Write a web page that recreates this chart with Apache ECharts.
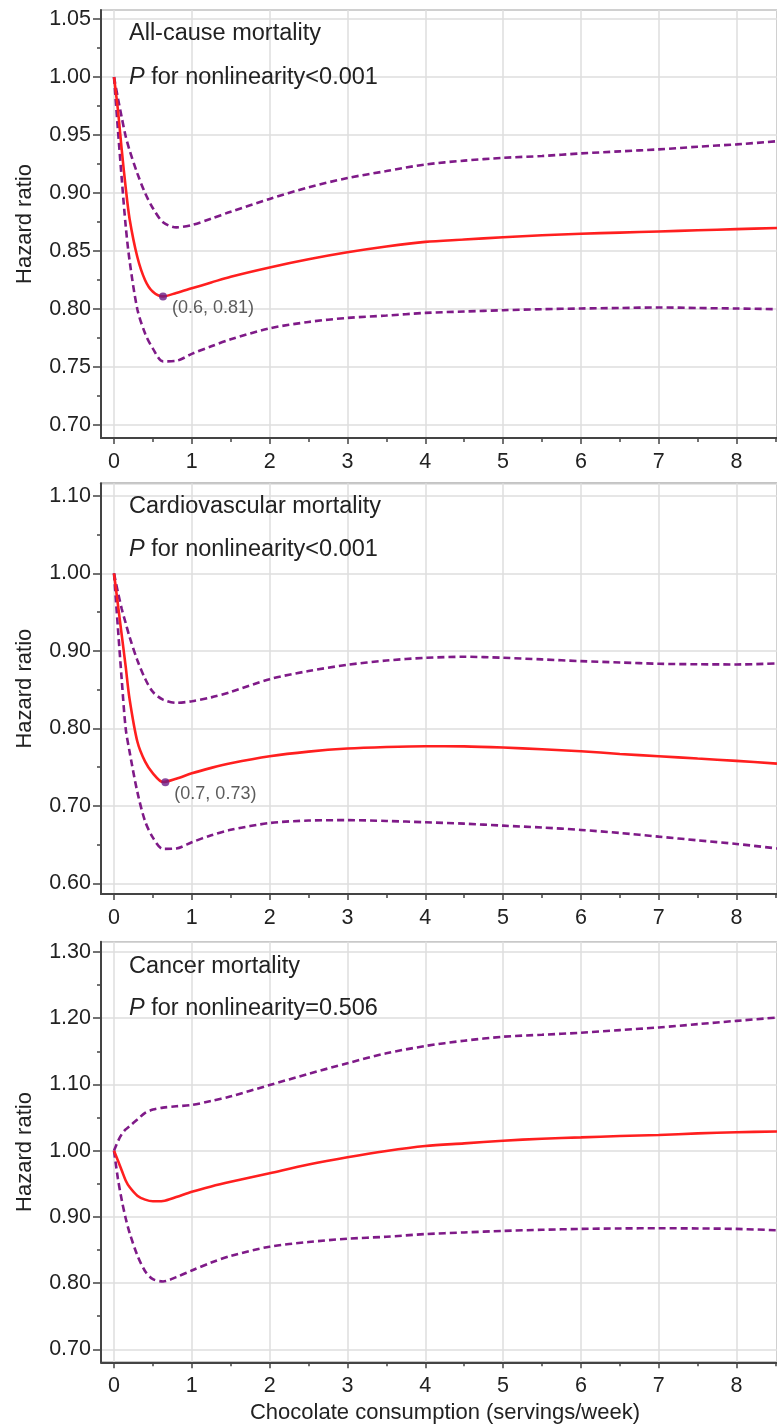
<!DOCTYPE html>
<html><head><meta charset="utf-8">
<script src="https://cdn.jsdelivr.net/npm/echarts@6/dist/echarts.min.js"></script>
<style>html,body{margin:0;padding:0;background:#fff}#c{width:777px;height:1427px}</style>
</head><body><div id="c"></div>
<script>
// shared x positions (servings/week)
const xs = [0, 0.05, 0.1, 0.15, 0.2, 0.3, 0.4, 0.5, 0.63, 0.8, 1.0, 1.25, 1.5, 2, 2.5, 3, 3.5, 4, 4.5, 5, 5.5, 6, 6.5, 7, 7.5, 8, 8.52];

// Panel 1: all-cause mortality
const allEst   = [1.000, 0.972, 0.937, 0.905, 0.878, 0.845, 0.825, 0.815, 0.811, 0.814, 0.818, 0.823, 0.828, 0.836, 0.843, 0.849, 0.854, 0.858, 0.860, 0.862, 0.8637, 0.865, 0.866, 0.867, 0.868, 0.869, 0.870];
const allUpper = [1.000, 0.982, 0.965, 0.949, 0.937, 0.917, 0.900, 0.887, 0.875, 0.8705, 0.8725, 0.878, 0.884, 0.895, 0.905, 0.913, 0.919, 0.9247, 0.928, 0.9304, 0.932, 0.9342, 0.936, 0.9377, 0.940, 0.942, 0.9447];
const allLower = [1.000, 0.955, 0.912, 0.872, 0.842, 0.800, 0.779, 0.766, 0.755, 0.7555, 0.7615, 0.768, 0.774, 0.7835, 0.789, 0.7925, 0.7945, 0.7968, 0.798, 0.7991, 0.800, 0.8006, 0.801, 0.8015, 0.801, 0.8006, 0.800];

// Panel 2: cardiovascular mortality
const cvdEst   = [1.000, 0.960, 0.920, 0.880, 0.838, 0.783, 0.757, 0.742, 0.7307, 0.735, 0.742, 0.749, 0.755, 0.764, 0.770, 0.774, 0.776, 0.777, 0.7768, 0.7753, 0.773, 0.7705, 0.767, 0.764, 0.761, 0.758, 0.7545];
const cvdUpper = [1.000, 0.976, 0.954, 0.936, 0.918, 0.888, 0.864, 0.847, 0.837, 0.833, 0.835, 0.840, 0.847, 0.8635, 0.874, 0.882, 0.8875, 0.891, 0.8924, 0.8911, 0.889, 0.8868, 0.885, 0.8834, 0.8827, 0.8825, 0.8838];
const cvdLower = [1.000, 0.930, 0.862, 0.800, 0.770, 0.718, 0.680, 0.659, 0.6444, 0.645, 0.653, 0.662, 0.669, 0.6778, 0.681, 0.6815, 0.6805, 0.6788, 0.677, 0.6744, 0.672, 0.6689, 0.665, 0.6602, 0.6555, 0.6508, 0.645];

// Panel 3: cancer mortality
const canEst   = [1.000, 0.985, 0.970, 0.955, 0.945, 0.932, 0.926, 0.9235, 0.924, 0.930, 0.938, 0.946, 0.953, 0.966, 0.979, 0.990, 0.9995, 1.007, 1.011, 1.015, 1.018, 1.020, 1.022, 1.0237, 1.026, 1.0278, 1.029];
const canUpper = [1.000, 1.014, 1.025, 1.032, 1.037, 1.047, 1.057, 1.062, 1.065, 1.067, 1.069, 1.075, 1.082, 1.099, 1.116, 1.132, 1.147, 1.158, 1.166, 1.172, 1.175, 1.178, 1.182, 1.186, 1.191, 1.196, 1.201];
const canLower = [1.000, 0.958, 0.925, 0.898, 0.876, 0.842, 0.818, 0.806, 0.8025, 0.809, 0.819, 0.831, 0.841, 0.855, 0.862, 0.867, 0.870, 0.874, 0.8765, 0.8788, 0.8805, 0.8818, 0.8825, 0.8828, 0.8825, 0.8818, 0.8798];

// nadir points
const allNadir = [0.63, 0.811];
const cvdNadir = [0.66, 0.7305];
const allNadirLabel = '(0.6, 0.81)';
const cvdNadirLabel = '(0.7, 0.73)';

// texts
const panelTitles = ['All-cause mortality', 'Cardiovascular mortality', 'Cancer mortality'];
const pValues = ['<0.001', '<0.001', '=0.506'];
const yName = 'Hazard ratio';
const xName = 'Chocolate consumption (servings/week)';

// axis ranges / ticks
const xRange = [-0.167, 8.52];
const xMinorTicks = [0.5, 1.5, 2.5, 3.5, 4.5, 5.5, 6.5, 7.5, 8.5];
const yRanges = [[0.689, 1.0578], [0.5862, 1.1163], [0.6804, 1.3155]];
const yIntervals = [0.05, 0.1, 0.1];
const yMinorTicks = [
  [0.725, 0.775, 0.825, 0.875, 0.925, 0.975, 1.025],
  [0.65, 0.75, 0.85, 0.95, 1.05],
  [0.75, 0.85, 0.95, 1.05, 1.15, 1.25]
];

const FONT = '"Liberation Sans", Arial, Helvetica, sans-serif';
const TXT = '#222';
const AXIS = '#444';
const RED = '#ff1f1f';
const PURPLE = '#7f1a88';

const gridLayout = [
  {top: 10, height: 428},
  {top: 483.3, height: 410.7},
  {top: 941.7, height: 420.6}
];
const titleTops = [[22, 65.3], [494.6, 537.6], [954.3, 996.3]];

const pair = (ys) => xs.map((x, i) => [x, ys[i]]);
const panels = [
  {est: allEst, up: allUpper, lo: allLower, nadir: allNadir, nadirLabel: allNadirLabel},
  {est: cvdEst, up: cvdUpper, lo: cvdLower, nadir: cvdNadir, nadirLabel: cvdNadirLabel},
  {est: canEst, up: canUpper, lo: canLower, nadir: null}
];

const grid = [], xAxis = [], yAxis = [], series = [], title = [];
panels.forEach((p, i) => {
  grid.push({left: 101, right: 0, top: gridLayout[i].top, height: gridLayout[i].height,
    show: true, borderColor: '#8a8a8a', borderWidth: 1.5, backgroundColor: 'transparent'});
  const xMain = xAxis.length;
  xAxis.push({
    type: 'value', gridIndex: i, min: xRange[0], max: xRange[1], minInterval: 1, maxInterval: 1,
    axisLine: {show: true, onZero: false, lineStyle: {color: AXIS, width: 2}},
    axisTick: {show: true, length: 6, lineStyle: {color: AXIS, width: 1.5}},
    axisLabel: {show: true, margin: 13, color: TXT, fontSize: 21.5, fontFamily: FONT, showMinLabel: false, showMaxLabel: false},
    splitLine: {show: true, lineStyle: {color: '#dedede', width: 1.5}},
    name: i === 2 ? xName : '', nameLocation: 'middle', nameGap: 40,
    nameTextStyle: {color: TXT, fontSize: 22, fontFamily: FONT, padding: [0, 0, 0, 12]}
  });
  xAxis.push({
    type: 'value', gridIndex: i, min: xRange[0], max: xRange[1], position: 'bottom',
    axisLine: {show: false, onZero: false}, splitLine: {show: false}, axisLabel: {show: false},
    axisTick: {show: true, length: 4, customValues: xMinorTicks, lineStyle: {color: AXIS, width: 1.5}}
  });
  const yMain = yAxis.length;
  yAxis.push({
    type: 'value', gridIndex: i, min: yRanges[i][0], max: yRanges[i][1],
    minInterval: yIntervals[i], maxInterval: yIntervals[i],
    axisLine: {show: true, onZero: false, lineStyle: {color: AXIS, width: 2}},
    axisTick: {show: true, length: 8, lineStyle: {color: AXIS, width: 1.5}},
    axisLabel: {show: true, margin: 10, color: TXT, fontSize: 21.5, fontFamily: FONT,
      showMinLabel: false, showMaxLabel: false, formatter: v => v.toFixed(2)},
    splitLine: {show: true, lineStyle: {color: '#dedede', width: 1.5}},
    name: yName, nameLocation: 'middle', nameRotate: 90, nameGap: 65,
    nameTextStyle: {color: TXT, fontSize: 22, fontFamily: FONT}
  });
  yAxis.push({
    type: 'value', gridIndex: i, min: yRanges[i][0], max: yRanges[i][1], position: 'left',
    axisLine: {show: false, onZero: false}, splitLine: {show: false}, axisLabel: {show: false},
    axisTick: {show: true, length: 4, customValues: yMinorTicks[i], lineStyle: {color: AXIS, width: 1.5}}
  });
  const dashed = {color: PURPLE, width: 2.6, type: [7, 4]};
  [p.up, p.lo].forEach(d => series.push({
    type: 'line', xAxisIndex: xMain, yAxisIndex: yMain, data: pair(d), showSymbol: false,
    smooth: 0.3, lineStyle: dashed, silent: true, z: 3
  }));
  series.push({
    type: 'line', xAxisIndex: xMain, yAxisIndex: yMain, data: pair(p.est), showSymbol: false,
    smooth: 0.3, lineStyle: {color: RED, width: 2.6}, silent: true, z: 4
  });
  if (p.nadir) {
    series.push({
      type: 'scatter', xAxisIndex: xMain, yAxisIndex: yMain, symbolSize: 8, z: 5,
      itemStyle: {color: '#6c1c86'},
      data: [{value: p.nadir, name: p.nadirLabel}],
      label: {show: true, formatter: '{b}', position: [13, 7], align: 'left', verticalAlign: 'top',
        color: '#333', fontSize: 18, fontFamily: FONT}
    });
  }
  title.push({text: panelTitles[i], left: 129, top: titleTops[i][0], padding: 0,
    textStyle: {color: TXT, fontSize: 23.5, fontWeight: 'normal', fontFamily: FONT, lineHeight: 23.5}});
  title.push({text: '{i|P} for nonlinearity' + pValues[i], left: 129, top: titleTops[i][1], padding: 0,
    textStyle: {color: TXT, fontSize: 23.5, fontWeight: 'normal', fontFamily: FONT, lineHeight: 23.5,
      rich: {i: {fontStyle: 'italic', fontSize: 23.5, fontFamily: FONT, color: TXT, lineHeight: 23.5}}}});
});

const chart = echarts.init(document.getElementById('c'), null, {renderer: 'canvas'});
chart.setOption({animation: false, backgroundColor: '#fff', title, grid, xAxis, yAxis, series});
</script>
</body></html>
